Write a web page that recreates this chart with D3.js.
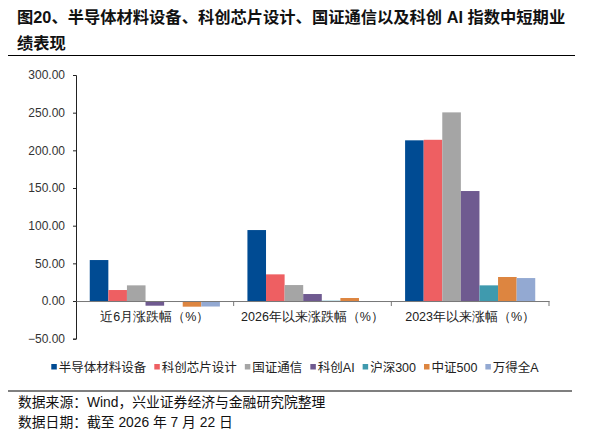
<!DOCTYPE html>
<html>
<head>
<meta charset="utf-8">
<script src="https://cdn.jsdelivr.net/npm/d3@7"></script>
<style>
  body { margin: 0; background: #fff; }
  svg { font-family: "Liberation Sans", Arial, "Noto Sans CJK SC", sans-serif; }
</style>
</head>
<body>
<div id="chart"></div>
<script>
const categories = ["近6月涨跌幅（%）", "2026年以来涨跌幅（%）", "2023年以来涨幅（%）"];
const seriesNames = ["半导体材料设备", "科创芯片设计", "国证通信", "科创AI", "沪深300", "中证500", "万得全A"];
const seriesColors = ["#004b93", "#ee5f62", "#a5a5a5", "#6f5a90", "#3f9aae", "#dd8540", "#93a9d2"];
// values per series, one per category
const semiEquip   = [54.4, 94.2, 213.3];
const chipDesign  = [14.6, 35.4, 214.0];
const telecom     = [20.8, 21.2, 250.4];
const kcAI        = [-6.2, 9.3, 146.0];
const hs300       = [-0.3, 0.4, 20.8];
const zz500       = [-7.5, 4.0, 31.9];
const windA       = [-7.3, -1.3, 30.5];
const yTicks = [-50, 0, 50, 100, 150, 200, 250, 300];

const seriesValues = [semiEquip, chipDesign, telecom, kcAI, hs300, zz500, windA];

const width = 591, height = 435;
const svg = d3.select("#chart").append("svg")
    .attr("width", width)
    .attr("height", height);

// title
svg.append("text")
    .attr("x", 17).attr("y", 23)
    .attr("font-size", 16.3).attr("font-weight", "bold").attr("fill", "#111")
    .text("图20、半导体材料设备、科创芯片设计、国证通信以及科创 AI 指数中短期业");
svg.append("text")
    .attr("x", 17).attr("y", 49)
    .attr("font-size", 16.3).attr("font-weight", "bold").attr("fill", "#111")
    .text("绩表现");
svg.append("line")
    .attr("x1", 8).attr("x2", 575).attr("y1", 55.5).attr("y2", 55.5)
    .attr("stroke", "#000").attr("stroke-width", 1.2);

const x = d3.scaleBand().domain(categories).range([76, 549]);
const xs = d3.scaleBand().domain(seriesNames).range([0, x.bandwidth()]).paddingOuter(0.74);
const y = d3.scaleLinear().domain([-50, 300]).range([338.7, 75]);

// y axis
const yAxis = svg.append("g")
    .attr("transform", "translate(76,0)")
    .call(d3.axisLeft(y).tickValues(yTicks).tickFormat(d3.format(".2f")).tickSize(3).tickPadding(8));
yAxis.select(".domain").attr("stroke", "#222");
yAxis.selectAll(".tick line").attr("stroke", "#222");
yAxis.selectAll("text").attr("font-size", 12).attr("fill", "#333");

// bars
const data = [];
seriesNames.forEach((s, i) => {
    categories.forEach((c, j) => {
        data.push({ series: s, cat: c, value: seriesValues[i][j], color: seriesColors[i] });
    });
});

svg.append("g")
    .selectAll("rect")
    .data(data)
    .join("rect")
    .attr("x", d => x(d.cat) + xs(d.series))
    .attr("width", xs.bandwidth())
    .attr("y", d => y(Math.max(0, d.value)))
    .attr("height", d => Math.abs(y(d.value) - y(0)))
    .attr("fill", d => d.color);

// x axis on zero line
const xAxis = svg.append("g")
    .attr("transform", `translate(0,${y(0)})`)
    .call(d3.axisBottom(x).tickSize(0).tickPadding(11));
xAxis.select(".domain").attr("stroke", "#777");
xAxis.selectAll("text").attr("font-size", 12.5).attr("fill", "#222");

// category boundary ticks
svg.append("g")
    .selectAll("line")
    .data(categories)
    .join("line")
    .attr("x1", d => x(d) + x.bandwidth())
    .attr("x2", d => x(d) + x.bandwidth())
    .attr("y1", y(0)).attr("y2", y(0) + 5)
    .attr("stroke", "#777");

// legend
const legend = svg.append("g");
let lx = 0;
seriesNames.forEach((s, i) => {
    const g = legend.append("g");
    g.append("rect").attr("x", 0).attr("y", -3).attr("width", 5.5).attr("height", 5.5)
        .attr("fill", seriesColors[i]);
    const t = g.append("text").attr("x", 7.5).attr("y", 4.5)
        .attr("font-size", 12.5).attr("fill", "#222").text(s);
    const w = 7.5 + t.node().getComputedTextLength();
    g.attr("transform", `translate(${lx},0)`);
    lx += w + 8;
});
const legendW = lx - 8;
legend.attr("transform", `translate(${295 - legendW / 2},367)`);

// footer
svg.append("line")
    .attr("x1", 8).attr("x2", 572).attr("y1", 391).attr("y2", 391)
    .attr("stroke", "#000").attr("stroke-width", 1.2);
svg.append("text")
    .attr("x", 18).attr("y", 407)
    .attr("font-size", 13.8).attr("fill", "#111")
    .text("数据来源：Wind，兴业证券经济与金融研究院整理");
svg.append("text")
    .attr("x", 18).attr("y", 427)
    .attr("font-size", 13.8).attr("fill", "#111")
    .text("数据日期：截至 2026 年 7 月 22 日");
</script>
</body>
</html>
